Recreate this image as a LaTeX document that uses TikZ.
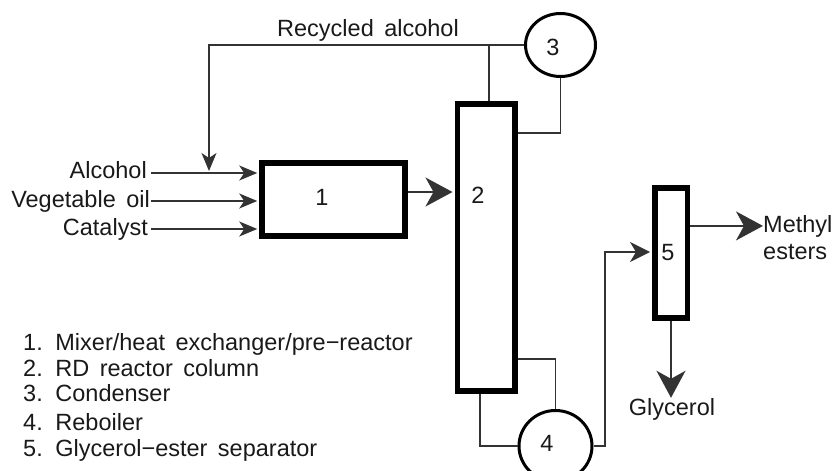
\documentclass[tikz,border=0pt]{standalone}
\usepackage{fontspec}
\setmainfont{Liberation Sans}[WordSpace=1.6]
\usetikzlibrary{arrows.meta,shapes.geometric}
\begin{document}
\begin{tikzpicture}[x=1pt,y=-1pt,
  every node/.style={font=\fontsize{23.5}{26}\selectfont, inner sep=0pt, text=black!90},
  unit/.style={draw, line width=5.5pt, rectangle, inner sep=0pt},
  vessel/.style={draw, line width=3pt, ellipse, inner sep=0pt},
  pipe/.style={line width=1.5pt, draw=black!80},
  feed/.style={pipe, shorten >=2pt, -{Stealth[length=18pt,width=15pt,inset=5pt]}},
  midarrow/.style={pipe, shorten >=2pt, -{Stealth[length=20pt,width=20pt,inset=6pt]}},
  bigarrow/.style={pipe, -{Stealth[length=27pt,width=29pt,inset=8pt]}},
]
\useasboundingbox (0,0) rectangle (838,471);

% units
\node[unit, minimum width=143pt, minimum height=73pt,
      label={[xshift=-11.5pt, yshift=2.5pt]center:1}] (b1) at (333.5,199.5) {};
\node[unit, minimum width=57.5pt, minimum height=287pt,
      label={[xshift=-8pt, yshift=52.5pt]center:2}] (col2) at (486,247.5) {};
\node[unit, minimum width=32.5pt, minimum height=130pt,
      label={[xshift=-3pt]center:5}] (col5) at (671,253) {};
\node[vessel, minimum width=70pt, minimum height=63pt,
      label={[xshift=-7.5pt, yshift=-2pt]center:3}] (c3) at (560.5,45) {};
\node[vessel, minimum width=73pt, minimum height=71pt,
      label={[xshift=-8.5pt, yshift=3pt]center:4}] (c4) at (555.5,446) {};

% texts
\node[anchor=base west] (rec) at (277,36) {Recycled alcohol};
\node[anchor=base east] (alc) at (147,178) {Alcohol};
\node[anchor=base east] (veg) at (150,207) {Vegetable oil};
\node[anchor=base east] (cat) at (148,235) {Catalyst};
\node[anchor=base west] (meth) at (763,232) {Methyl};
\node[anchor=base west] (est) at (763,259) {esters};
\node[anchor=base] (gly) at (672,415) {Glycerol};

\node[anchor=base west] (l1) at (23,350) {1. Mixer/heat exchanger/pre−reactor};
\node[anchor=base west] (l2) at (23,376.5) {2. RD reactor column};
\node[anchor=base west] (l3) at (23,401.5) {3. Condenser};
\node[anchor=base west] (l4) at (23,430) {4. Reboiler};
\node[anchor=base west] (l5) at (23,456.5) {5. Glycerol−ester separator};

% helper coordinates
\coordinate (ya) at (0,173);
\coordinate (yv) at (0,201);
\coordinate (yc) at (0,229);
\coordinate (mix) at (209,173);
\coordinate (tap) at (489,45);
\coordinate (yref) at (0,133);
\coordinate (yfeed) at (0,192);
\coordinate (yboil) at (0,359);
\coordinate (xbot) at (480,0);
\coordinate (turn) at (605,252);

% feeds
\draw[feed] ([xshift=4pt]alc.east |- ya) -- (b1.west |- ya);
\draw[feed] ([xshift=1pt]veg.east |- yv) -- (b1.west |- yv);
\draw[feed] ([xshift=3pt]cat.east |- yc) -- (b1.west |- yc);

% recycle loop
\draw[feed] (c3.west) -| (mix);
\draw[pipe] (tap) -- (tap |- col2.north);
\draw[pipe] (c3.south) |- (col2.east |- yref);

% main flow
\draw[bigarrow, shorten >=2pt] (b1.east |- yfeed) -- (col2.west |- yfeed);

% reboiler loop
\draw[pipe] (col2.east |- yboil) -| (c4.north);
\draw[pipe] (col2.south -| xbot) |- (c4.west);
\draw[midarrow] (c4.east) -| (turn) -- (col5.west |- turn);

% products
\draw[bigarrow] (col5.east |- meth.west) -- (meth.west);
\draw[bigarrow] (col5.south) -- (col5.south |- gly.north);
\end{tikzpicture}
\end{document}
